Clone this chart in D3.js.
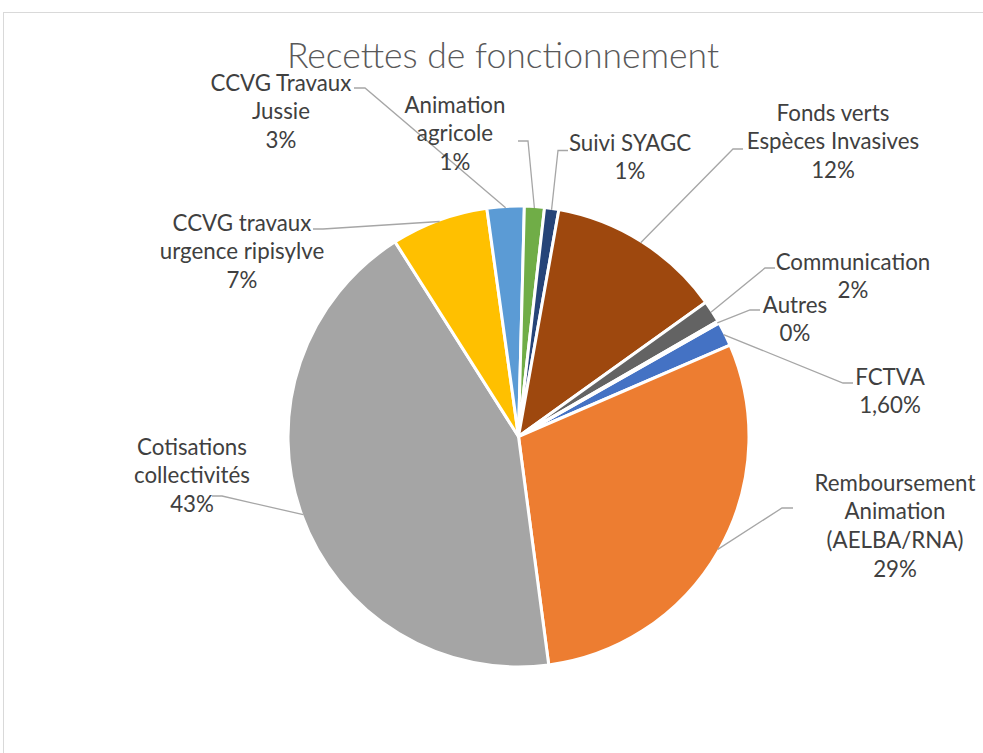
<!DOCTYPE html>
<html>
<head>
<meta charset="utf-8">
<script src="https://cdn.jsdelivr.net/npm/d3@7"></script>
<style>
  html, body { margin: 0; padding: 0; background: #fff; }
  svg { display: block; }
</style>
</head>
<body>
<svg id="chart" width="983" height="753"></svg>
<script>
// ---- data (clockwise order, as in the source spreadsheet) ----
const categories = [
  "FCTVA",
  "Remboursement Animation (AELBA/RNA)",
  "Cotisations collectivités",
  "CCVG travaux urgence ripisylve",
  "CCVG Travaux Jussie",
  "Animation agricole",
  "Suivi SYAGC",
  "Fonds verts Espèces Invasives",
  "Communication",
  "Autres"
];
const values = [1.7, 29.4, 43.1, 6.8, 2.6, 1.4, 1.0, 12.3, 1.55, 0.15];
const pctLabels = ["1,60%", "29%", "43%", "7%", "3%", "1%", "1%", "12%", "2%", "0%"];
const labelLines = [
  ["FCTVA"],
  ["Remboursement", "Animation", "(AELBA/RNA)"],
  ["Cotisations", "collectivités"],
  ["CCVG travaux", "urgence ripisylve"],
  ["CCVG Travaux", "Jussie"],
  ["Animation", "agricole"],
  ["Suivi SYAGC"],
  ["Fonds verts", "Espèces Invasives"],
  ["Communication"],
  ["Autres"]
];
const colors = ["#4472C4", "#ED7D31", "#A5A5A5", "#FFC000", "#5B9BD5",
                "#70AD47", "#264478", "#9E480E", "#636363", "#997300"];

// ---- layout (label placement: text centre x, first line centre y, leader start, elbow dx) ----
const labelLayout = [
  {x: 890, y: 377, sx: 853, sy: 383, ex: -10},
  {x: 895, y: 483, sx: 793, sy: 508, ex: -11},
  {x: 192, y: 447, sx: 212, sy: 496, ex: 10},
  {x: 242, y: 223, sx: 313, sy: 229, ex: 10},
  {x: 281, y: 83,  sx: 354, sy: 88,  ex: 11},
  {x: 455, y: 105, sx: 518, sy: 141, ex: 10},
  {x: 630, y: 143, sx: 568, sy: 150.5, ex: -10},
  {x: 833, y: 113, sx: 743, sy: 149, ex: -10},
  {x: 853, y: 262, sx: 775, sy: 268, ex: -10},
  {x: 795, y: 305, sx: 760, sy: 310, ex: -10}
];

const W = 983, H = 753;
const cx = 518.5, cy = 436.5, R = 230.5;
const startDeg = 60.5;
const lineH = 28.8;
const fontFam = "Lato, 'Open Sans', sans-serif";

const svg = d3.select("#chart");

// chart area border
svg.append("rect")
  .attr("x", 3.5).attr("y", 12.5)
  .attr("width", W + 10).attr("height", H + 10)
  .attr("fill", "#fff").attr("stroke", "#d9d9d9").attr("stroke-width", 1);

// title
svg.append("text")
  .attr("x", 503).attr("y", 68)
  .attr("text-anchor", "middle")
  .attr("font-family", fontFam)
  .attr("font-weight", 300)
  .attr("font-size", 35.5)
  .attr("fill", "#595959")
  .text("Recettes de fonctionnement");

const start = startDeg * Math.PI / 180;
const pie = d3.pie().sort(null).value(d => d)
  .startAngle(start).endAngle(start + 2 * Math.PI);
const arcs = pie(values);
const arc = d3.arc().innerRadius(0).outerRadius(R);

const g = svg.append("g").attr("transform", `translate(${cx},${cy})`);
g.selectAll("path.slice")
  .data(arcs)
  .join("path")
  .attr("class", "slice")
  .attr("d", arc)
  .attr("fill", (d, i) => colors[i])
  .attr("stroke", "#fff")
  .attr("stroke-width", 3)
  .attr("stroke-linejoin", "round");

// leader lines
const rEdge = R - 1.5;
arcs.forEach((a, i) => {
  const L = labelLayout[i];
  const mid = (a.startAngle + a.endAngle) / 2;
  const px = cx + rEdge * Math.sin(mid);
  const py = cy - rEdge * Math.cos(mid);
  svg.append("polyline")
    .attr("points", `${L.sx},${L.sy} ${L.sx + L.ex},${L.sy} ${px},${py}`)
    .attr("fill", "none")
    .attr("stroke", "#A6A6A6")
    .attr("stroke-width", 1.3);
});

// labels
arcs.forEach((a, i) => {
  const L = labelLayout[i];
  const lines = labelLines[i].concat([pctLabels[i]]);
  const t = svg.append("text")
    .attr("text-anchor", "middle")
    .attr("font-family", fontFam)
    .attr("font-size", 22.3)
    .attr("fill", "#404040");
  lines.forEach((s, k) => {
    t.append("tspan")
      .attr("x", L.x)
      .attr("y", L.y + k * lineH + 7.5)
      .text(s);
  });
});
</script>
</body>
</html>
